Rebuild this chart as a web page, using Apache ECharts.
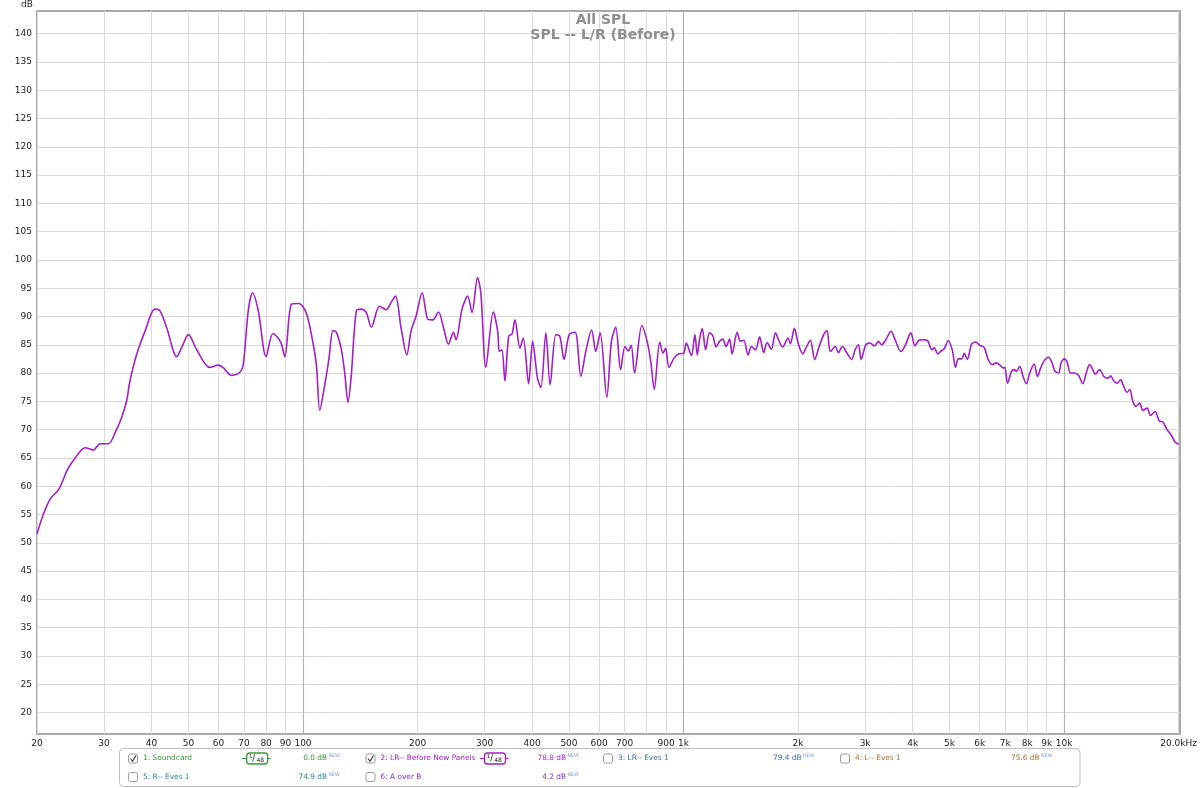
<!DOCTYPE html>
<html><head><meta charset="utf-8">
<script src="https://cdn.jsdelivr.net/npm/echarts@6/dist/echarts.min.js"></script>
<style>html,body{margin:0;padding:0;background:#fff}#c{width:1200px;height:788px}</style>
</head><body><div id="c"></div>
<script>
// ---- data ----
const freqHz = [
  20,20.8,21.7,22.8,24.0,24.9,26.8,28.1,29.3,30.8,32.4,33.4,34.4,35.1,36.6,38.5,40.8,42.1,43.8,46.6,48.0,50.0,52.5,56.9,59.8,61.6,64.9,68.2,69.7,71.8,73.7,76.3,80.0,83.4,87.3,89.6,93.3,97.5,
  102,106.2,108.5,110.7,114,117,119.9,122.4,126.1,128.7,131.3,133.9,138.1,142.3,146.7,151.2,158.9,165.5,170.5,175,181.2,187.4,192.4,198.3,205.7,212.9,219.4,227,233.9,241.1,248.5,252.5,261.8,270.9,278.1,287.5,293.3,302.4,
  316.3,324.8,328,333.2,339.3,347.1,354.2,360.6,371.6,379.1,391.7,401.2,413.5,421.8,434.8,446.1,461.9,473,485.4,500.6,519.2,537.1,553.5,573.6,587.9,603.8,628.6,646.4,663.5,683.3,701.3,715.4,728.4,743.6,777,804.2,820.7,837.6,866,883.2,897.4,915.5,943.3,971.7,1001,1017,
  1049,1071,1087,1101,1120,1143,1170,1194,1218,1243,1268,1294,1321,1342,1383,1411,1440,1478,1508,1545,1585,1624,1658,1701,1744,1779,1822,1882,1909,1956,2000,2058,2097,2154,2211,2265,2335,2382,2431,2504,2553,2616,2685,2767,2824,2882,2929,3013,3093,3173,3250,3316,3395,3510,3596,3728,3819,3958,4056,4154,4261,4371,4460,
  4505,4560,4653,4750,4843,4961,5084,5185,5273,5379,5467,5568,5713,5854,6008,6170,6316,6474,6645,6782,6914,6988,7103,7274,7393,7494,7644,7802,7960,8123,8343,8515,8690,8871,9108,9302,9447,9676,9834,10027,10190,10397,10652,10912,11202,11435,11668,11905,12073,12394,12723,13036,13247,13515,13788,14069,14355,14650,14887,15160,15468,15785,16105,16532,16871,17350,17807,18168,18647,19105,19575,20000
];
const splDb = [
  51.6,55.1,57.8,59.4,62.8,64.5,66.8,66.4,67.5,67.5,70.1,72.2,75.1,78.6,83.4,87.5,91.3,91.0,88.1,82.9,84.5,86.8,84.2,81.0,81.4,81.0,79.6,80.1,81.6,91.0,94.2,91.0,82.9,87.0,85.5,82.9,92.2,92.3,
  90.6,85.4,81.3,73.4,77.8,82.5,87.5,87.2,84.2,80.1,74.8,79.5,91.0,91.3,90.7,88.1,91.8,91.2,92.5,93.6,87.8,83.2,87.5,90.1,94.2,89.5,89.4,90.8,88.1,85.1,87.2,85.9,91.3,93.6,90.7,96.9,94.2,81.0,
  90.8,87.4,83.8,84.1,78.6,86.5,86.9,89.4,84.4,86.2,78.1,85.6,79.0,77.4,87.1,77.9,86.8,86.5,82.4,86.8,87.2,79.4,83.8,87.6,83.8,87.1,75.7,85.6,88.1,80.6,84.7,83.9,84.9,80.0,88.4,85.3,81.9,77.1,85.5,83.5,84.4,81.0,82.6,83.4,83.5,85.3,
  83.1,86.8,83.2,85.8,87.9,84.1,87.1,86.6,84.6,85.6,86.0,84.7,86.0,83.4,87.2,85.6,85.8,83.2,84.7,84.1,86.4,83.6,85.4,84.2,87.1,85.8,84.6,86.2,85.2,87.9,85.3,83.4,84.4,85.8,82.4,84.4,86.8,87.5,83.8,84.7,83.6,84.7,83.6,82.4,84.1,85.0,82.4,85.0,85.3,84.8,85.6,85.0,85.8,87.4,85.9,83.8,84.8,87.1,84.8,85.8,85.9,85.8,84.4,
  84.1,84.5,83.4,83.9,84.3,85.7,84.1,81.0,82.5,82.5,83.5,82.4,85.1,85.5,84.9,84.5,82.4,81.5,81.8,81.4,80.9,81.0,78.2,80.3,80.6,80.3,81.2,79.4,78.1,80.0,81.6,79.4,81.0,82.2,82.8,81.8,80.4,80.0,81.9,82.5,81.9,80.0,80.0,79.6,78.1,80.0,81.5,80.6,79.8,80.6,79.4,79.1,79.5,78.6,78.2,78.8,77.6,76.6,77.1,75.0,74.1,74.7,73.4,73.8,72.5,73.2,71.5,71.4,70.0,69.1,67.8,67.4
];
const xTickValues = [20,30,40,50,60,70,80,90,100,200,300,400,500,600,700,800,900,1000,2000,3000,4000,5000,6000,7000,8000,9000,10000,20000];
const xTickLabels = ['20','30','40','50','60','70','80','90','100','200','300','400','500','600','700','','900','1k','2k','3k','4k','5k','6k','7k','8k','9k','10k','20.0kHz'];
const xMajorValues = [100,1000,10000];
const yTickValues = [20,25,30,35,40,45,50,55,60,65,70,75,80,85,90,95,100,105,110,115,120,125,130,135,140];
const titleLines = ['All SPL','SPL -- L/R (Before)'];
const legendNames = ['1: Soundcard','2: LR-- Before New Panels','3: LR-- Eves 1','4: L-- Eves 1','5: R-- Eves 1','6: A over B'];
const legendLevels = ['0.0 dB','78.8 dB','79.4 dB','75.6 dB','74.9 dB','4.2 dB'];
const legendChecked = [true,true,false,false,false,false];
const legendSmoothing = ['48','48',null,null,null,null];

// ---- styles / layout ----
const legendColors = ['#3b973b','#a21fc4','#3c6db5','#b06e2e','#2f8787','#7a36c8'];
const FONT = 'DejaVu Sans';
const rowY = [758.5, 777];
const boxX = [128.5, 366, 603.5, 840.5];
const valRight = [327, 566, 801.5, 1039.5];
const smoothCx = [257.2, 495];

function txt(x, y, text, color, size, align, weight) {
  return {
    type: 'text', x: x, y: y, silent: true,
    style: { text: text, fill: color, font: (weight || 'normal') + ' ' + size + 'px "' + FONT + '"',
      align: align || 'left', textAlign: align || 'left',
      verticalAlign: 'middle', textVerticalAlign: 'middle' }
  };
}

const graphics = [];
graphics.push({ type: 'rect', silent: true, shape: { x: 119.5, y: 748.5, width: 960.5, height: 38, r: 4 },
  style: { fill: '#fff', stroke: '#bdbdbd', lineWidth: 1 } });
legendNames.forEach(function (name, i) {
  const row = i < 4 ? 0 : 1, col = i < 4 ? i : i - 4;
  const y = rowY[row], bx = boxX[col], c = legendColors[i];
  graphics.push({ type: 'rect', silent: true, shape: { x: bx, y: y - 4.5, width: 9, height: 9, r: 2 },
    style: { fill: '#fff', stroke: '#9c9c9c', lineWidth: 1 } });
  if (legendChecked[i]) {
    graphics.push({ type: 'polyline', silent: true,
      shape: { points: [[bx + 2, y], [bx + 4, y + 2.8], [bx + 7.5, y - 3]] },
      style: { fill: null, stroke: '#333', lineWidth: 1.1 } });
  }
  graphics.push(txt(bx + 14.5, y, name, c, 7.4));
  graphics.push(txt(valRight[col], y, legendLevels[i], c, 7.4, 'right'));
  graphics.push(txt(valRight[col] + 1.5, y - 2.5, 'NEW', '#7d9ce0', 4.8));
  if (legendSmoothing[i]) {
    const cx = smoothCx[col];
    graphics.push({ type: 'line', silent: true, shape: { x1: cx - 15, y1: y, x2: cx + 13.5, y2: y },
      style: { stroke: c, lineWidth: 1.2 } });
    graphics.push({ type: 'rect', silent: true, shape: { x: cx - 10.5, y: y - 5.5, width: 21, height: 11, r: 3 },
      style: { fill: '#fff', stroke: c, lineWidth: 1.3 } });
    graphics.push(txt(cx - 6.5, y - 1.8, '1', '#222', 5.5, 'center'));
    graphics.push(txt(cx - 3.5, y, '/', '#222', 8, 'center'));
    graphics.push(txt(cx + 3, y + 1.5, legendSmoothing[i], '#222', 6, 'center'));
  }
});

function xLabel(v) {
  for (let i = 0; i < xTickValues.length; i++) {
    if (Math.abs(v - xTickValues[i]) / xTickValues[i] < 1e-6) return xTickLabels[i];
  }
  return '';
}

const chart = echarts.init(document.getElementById('c'), null, { renderer: 'canvas' });
chart.setOption({
  animation: false,
  backgroundColor: '#fff',
  title: {
    text: titleLines.join('\n'), left: 598, top: 8, textAlign: 'center', z: 10,
    textStyle: { fontFamily: FONT, fontSize: 14, fontWeight: 'bold', color: '#8e8e8e', lineHeight: 15 }
  },
  grid: { left: 37, right: 17, top: 9, bottom: 54, show: true, borderColor: '#a9a9a9', borderWidth: 2, backgroundColor: 'transparent' },
  xAxis: [{
    type: 'log', logBase: 10, min: 20, max: 20160, gridIndex: 0,
    axisLine: { show: false },
    axisTick: { show: false, customValues: xTickValues },
    axisLabel: { customValues: xTickValues, formatter: xLabel, fontFamily: FONT, fontSize: 9, color: '#222', margin: 5 },
    splitLine: { show: true, lineStyle: { color: '#dadada', width: 1 } }
  }, {
    type: 'log', logBase: 10, min: 20, max: 20160, gridIndex: 0, position: 'bottom',
    axisLine: { show: false },
    axisTick: { show: false, customValues: xMajorValues },
    axisLabel: { show: false, customValues: xMajorValues },
    splitLine: { show: true, lineStyle: { color: '#b3b3b3', width: 1.2 } }
  }],
  yAxis: {
    type: 'value', min: 16.2, max: 144,
    name: 'dB', nameLocation: 'end', nameGap: 2,
    nameTextStyle: { fontFamily: FONT, fontSize: 9, color: '#222', align: 'right', verticalAlign: 'bottom', padding: [0, 4, 0, 0] },
    axisLine: { show: false },
    axisTick: { show: false, customValues: yTickValues },
    axisLabel: { customValues: yTickValues, fontFamily: FONT, fontSize: 9, color: '#222', margin: 5 },
    splitLine: { show: true, lineStyle: { color: '#dadada', width: 1 } }
  },
  series: [{
    type: 'line', xAxisIndex: 0, yAxisIndex: 0,
    data: freqHz.map(function (f, i) { return [f, splDb[i]]; }),
    showSymbol: false, smooth: 0.3, silent: true,
    lineStyle: { color: '#a11fc6', width: 1.6 }
  }],
  graphic: graphics
});
</script></body></html>
